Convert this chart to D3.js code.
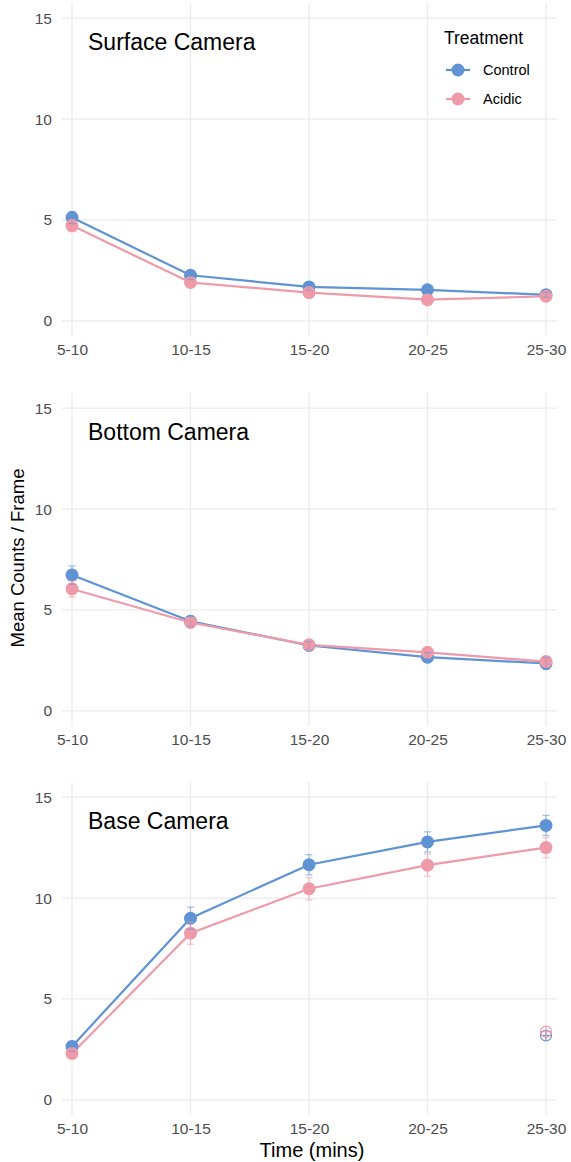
<!DOCTYPE html>
<html>
<head>
<meta charset="utf-8">
<script src="https://cdn.jsdelivr.net/npm/d3@7"></script>
<style>
  body { margin: 0; background: #fff; }
  text { font-family: "Liberation Sans", Arial, sans-serif; }
</style>
</head>
<body>
<svg id="chart" width="571" height="1162"></svg>
<script>
// Time bins on the x axis
const timeBins = ["5-10", "10-15", "15-20", "20-25", "25-30"];
const yTicks = [0, 5, 10, 15];
const treatments = ["Control", "Acidic"];
const colors = { Control: "#5f93d3", Acidic: "#ef9aa9" };

// Mean counts per frame and standard errors, by camera
const surfaceControl = [5.12, 2.26, 1.68, 1.54, 1.29];
const surfaceControlSE = [0.3, 0.22, 0.15, 0.15, 0.12];
const surfaceAcidic = [4.72, 1.9, 1.4, 1.05, 1.22];
const surfaceAcidicSE = [0.3, 0.2, 0.15, 0.15, 0.15];

const bottomControl = [6.73, 4.44, 3.24, 2.66, 2.35];
const bottomControlSE = [0.45, 0.25, 0.2, 0.22, 0.3];
const bottomAcidic = [6.04, 4.38, 3.27, 2.9, 2.44];
const bottomAcidicSE = [0.4, 0.22, 0.2, 0.2, 0.25];

const baseControl = [2.65, 9.0, 11.65, 12.78, 13.6];
const baseControlSE = [0.25, 0.55, 0.5, 0.5, 0.5];
const baseAcidic = [2.3, 8.26, 10.46, 11.63, 12.5];
const baseAcidicSE = [0.25, 0.55, 0.55, 0.55, 0.5];

// Open marker pair drawn at the last bin of the base camera
const baseExtraBin = "25-30";
const baseExtraControl = 3.19;
const baseExtraAcidic = 3.38;

const panels = [
  { title: "Surface Camera", top: 3, control: surfaceControl, controlSE: surfaceControlSE, acidic: surfaceAcidic, acidicSE: surfaceAcidicSE, legend: true },
  { title: "Bottom Camera", top: 393, control: bottomControl, controlSE: bottomControlSE, acidic: bottomAcidic, acidicSE: bottomAcidicSE },
  { title: "Base Camera", top: 782, control: baseControl, controlSE: baseControlSE, acidic: baseAcidic, acidicSE: baseAcidicSE, extra: true }
];

const svg = d3.select("#chart");
const left = 62, right = 557, panelH = 333;

const x = d3.scalePoint().domain(timeBins).range([72, 546]);

panels.forEach(p => {
  const y = d3.scaleLinear().domain([-0.75, 15.75]).range([p.top + panelH, p.top]);
  const g = svg.append("g");

  // grid
  g.selectAll(".hg").data(yTicks).join("line")
    .attr("x1", left).attr("x2", right)
    .attr("y1", d => y(d)).attr("y2", d => y(d))
    .attr("stroke", "#ebebeb").attr("stroke-width", 1.3);
  g.selectAll(".vg").data(timeBins).join("line")
    .attr("x1", d => x(d)).attr("x2", d => x(d))
    .attr("y1", p.top).attr("y2", p.top + panelH)
    .attr("stroke", "#ebebeb").attr("stroke-width", 1.3);

  // axes
  const ya = g.append("g").attr("transform", `translate(${left},0)`)
    .call(d3.axisLeft(y).tickValues(yTicks).tickSize(0).tickPadding(10));
  ya.select(".domain").remove();
  ya.selectAll("text").attr("fill", "#4d4d4d").attr("font-size", 15.5)
    .style("font-family", "Liberation Sans, Arial, sans-serif");

  const xa = g.append("g").attr("transform", `translate(0,${p.top + panelH})`)
    .call(d3.axisBottom(x).tickSize(0).tickPadding(8));
  xa.select(".domain").remove();
  xa.selectAll("text").attr("fill", "#4d4d4d").attr("font-size", 15.5)
    .style("font-family", "Liberation Sans, Arial, sans-serif");

  // title
  g.append("text").attr("x", 88).attr("y", p.top + 47)
    .attr("font-size", 23).attr("fill", "#000").text(p.title);

  const series = [
    { key: "Control", vals: p.control, se: p.controlSE },
    { key: "Acidic", vals: p.acidic, se: p.acidicSE }
  ];

  const line = d3.line().x((d, i) => x(timeBins[i])).y(d => y(d));

  series.forEach(s => {
    g.append("path").datum(s.vals)
      .attr("d", line).attr("fill", "none")
      .attr("stroke", colors[s.key]).attr("stroke-width", 2.2);
  });
  series.forEach(s => {
    g.selectAll(null).data(s.vals).join("circle")
      .attr("cx", (d, i) => x(timeBins[i])).attr("cy", d => y(d))
      .attr("r", 6.5).attr("fill", colors[s.key]);
  });
  // error bars
  series.forEach(s => {
    const eb = g.append("g").attr("stroke", colors[s.key]).attr("stroke-width", 1.2).attr("opacity", 0.6);
    s.vals.forEach((v, i) => {
      const cx = x(timeBins[i]);
      const y1 = y(v - s.se[i]), y2 = y(v + s.se[i]);
      eb.append("line").attr("x1", cx).attr("x2", cx).attr("y1", y1).attr("y2", y2);
      eb.append("line").attr("x1", cx - 3.5).attr("x2", cx + 3.5).attr("y1", y1).attr("y2", y1);
      eb.append("line").attr("x1", cx - 3.5).attr("x2", cx + 3.5).attr("y1", y2).attr("y2", y2);
    });
  });

  if (p.extra) {
    [["Control", baseExtraControl], ["Acidic", baseExtraAcidic]].forEach(([k, v]) => {
      const cx = x(baseExtraBin), cy = y(v);
      const m = g.append("g").attr("stroke", colors[k]).attr("fill", "none").attr("stroke-width", 1.1);
      m.append("circle").attr("cx", cx).attr("cy", cy).attr("r", 5.5);
      m.append("line").attr("x1", cx - 5.5).attr("x2", cx + 5.5).attr("y1", cy).attr("y2", cy);
      m.append("line").attr("x1", cx).attr("x2", cx).attr("y1", cy - 5.5).attr("y2", cy + 5.5);
    });
  }

  if (p.legend) {
    const lg = g.append("g");
    lg.append("text").attr("x", 444).attr("y", 44).attr("font-size", 17.5).attr("fill", "#000").text("Treatment");
    treatments.forEach((t, i) => {
      const cy = 70 + i * 29;
      lg.append("line").attr("x1", 446).attr("x2", 470).attr("y1", cy).attr("y2", cy)
        .attr("stroke", colors[t]).attr("stroke-width", 2.2);
      lg.append("circle").attr("cx", 458).attr("cy", cy).attr("r", 6.5).attr("fill", colors[t]);
      lg.append("text").attr("x", 483).attr("y", cy + 5).attr("font-size", 14.5).attr("fill", "#000").text(t);
    });
  }
});

// axis titles
svg.append("text").attr("x", 312).attr("y", 1157).attr("text-anchor", "middle")
  .attr("font-size", 20).attr("fill", "#000").text("Time (mins)");
svg.append("text").attr("transform", "translate(24,558) rotate(-90)")
  .attr("text-anchor", "middle").attr("font-size", 18.5).attr("fill", "#000")
  .text("Mean Counts / Frame");
</script>
</body>
</html>
